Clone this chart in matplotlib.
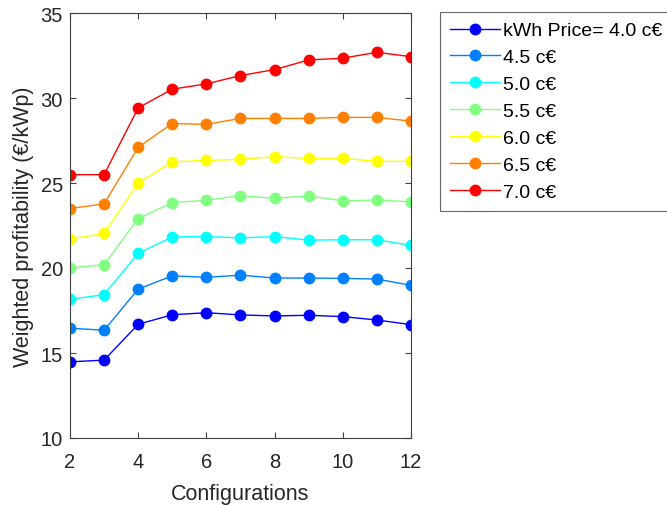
import matplotlib
matplotlib.use("Agg")
import matplotlib.pyplot as plt

plt.rcParams['font.family'] = ['Liberation Sans', 'DejaVu Sans']

# configurations on the x axis
configs = [2, 3, 4, 5, 6, 7, 8, 9, 10, 11, 12]

# weighted profitability per kWh price
p40 = [14.48, 14.58, 16.69, 17.25, 17.37, 17.24, 17.18, 17.22, 17.14, 16.94, 16.67]
p45 = [16.46, 16.34, 18.76, 19.54, 19.45, 19.58, 19.41, 19.41, 19.39, 19.35, 18.98]
p50 = [18.16, 18.43, 20.86, 21.83, 21.85, 21.77, 21.85, 21.64, 21.66, 21.66, 21.33]
p55 = [20.00, 20.20, 22.91, 23.85, 23.98, 24.26, 24.10, 24.24, 23.95, 24.00, 23.89]
p60 = [21.70, 22.03, 25.00, 26.24, 26.33, 26.39, 26.55, 26.45, 26.45, 26.27, 26.28]
p65 = [23.50, 23.77, 27.10, 28.50, 28.45, 28.80, 28.80, 28.80, 28.86, 28.86, 28.64]
p70 = [25.49, 25.49, 29.42, 30.52, 30.83, 31.32, 31.67, 32.24, 32.34, 32.69, 32.43]

series = [p40, p45, p50, p55, p60, p65, p70]
labels = ['kWh Price= 4.0 c€', '4.5 c€', '5.0 c€', '5.5 c€', '6.0 c€', '6.5 c€', '7.0 c€']
colors = [(0, 0, 1), (0, 0.5, 1), (0, 1, 1), (0.5, 1, 0.5), (1, 1, 0), (1, 0.5, 0), (1, 0, 0)]

fig = plt.figure(figsize=(6.67, 5.06), dpi=100)
ax = fig.add_axes([70/667, 1-439/506, 341/667, 425/506])

for vals, lab, col in zip(series, labels, colors):
    ax.plot(configs, vals, color=col, marker='o', markersize=7.5, linewidth=1, label=lab)

axcol = '#404040'
ax.set_xlim(2, 12)
ax.set_ylim(10, 35)
ax.set_xticks([2, 4, 6, 8, 10, 12])
ax.set_yticks([10, 15, 20, 25, 30, 35])
ax.tick_params(direction='in', length=4, width=0.8, top=True, right=True,
               labelsize=14.5, colors=axcol, labelcolor='#262626')
ax.tick_params(axis='x', pad=10)
ax.tick_params(axis='y', pad=5)
for s in ax.spines.values():
    s.set_color(axcol)
    s.set_linewidth(0.8)
ax.set_xlabel('Configurations', fontsize=15.5, color='#262626', labelpad=9)
ax.set_ylabel('Weighted profitability (€/kWp)', fontsize=15.5, color='#262626', labelpad=5)

leg = fig.legend(loc='upper left', bbox_to_anchor=(440/667, 1-13/506), fontsize=14,
                 frameon=True, fancybox=False, handlelength=2.6, handletextpad=0.15,
                 labelspacing=0.48, borderpad=0.5, borderaxespad=0)
leg.get_frame().set_edgecolor(axcol)
leg.get_frame().set_linewidth(0.8)

plt.savefig('out.png', dpi=100)
